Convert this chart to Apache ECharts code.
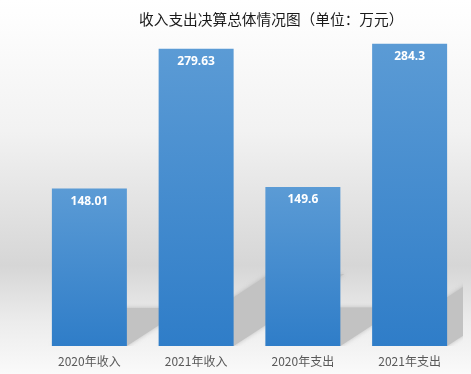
<!DOCTYPE html>
<html>
<head>
<meta charset="utf-8">
<script src="https://cdn.jsdelivr.net/npm/echarts@6/dist/echarts.min.js"></script>
<style>html,body{margin:0;padding:0;}#c{width:471px;height:374px;}</style>
</head>
<body>
<div id="c"></div>
<script>
const titleText = '收入支出决算总体情况图（单位：万元）';
const categories = ['2020年收入', '2021年收入', '2020年支出', '2021年支出'];
const values = [148.01, 279.63, 149.6, 284.3];

const chart = echarts.init(document.getElementById('c'));
const BAR_W = 75;
const D = 0.242, SLOPE = 0.65, C = D / SLOPE;

chart.setOption({
  animation: false,
  backgroundColor: {
    type: 'linear', x: 0, y: 0, x2: 0, y2: 1,
    colorStops: [
      { offset: 0, color: '#ffffff' },
      { offset: 0.06, color: '#fdfdfd' },
      { offset: 0.35, color: '#f2f2f2' },
      { offset: 0.71, color: '#d6d6d6' },
      { offset: 0.86, color: '#ececec' },
      { offset: 1, color: '#fafafa' }
    ]
  },
  title: {
    text: titleText,
    left: 139, top: 12, padding: 0,
    textStyle: { fontFamily: 'Noto Sans CJK SC', fontSize: 14.7, fontWeight: 'normal', color: '#1a1a1a', lineHeight: 15 }
  },
  grid: { left: 36, right: 8, top: 27, bottom: 28, containLabel: false },
  xAxis: {
    type: 'category', data: categories,
    axisLine: { show: false }, axisTick: { show: false },
    axisLabel: { margin: 9, fontFamily: 'Noto Sans CJK SC', fontSize: 12, color: '#595959' }
  },
  yAxis: { type: 'value', min: 0, max: 300, show: false, splitLine: { show: false } },
  series: [
    {
      type: 'custom', z: 1, clip: true, silent: true,
      data: values.map((v, i) => [i, v]),
      renderItem: function (params, api) {
        const base = api.coord([api.value(0), 0]);
        const top = api.coord([api.value(0), api.value(1)]);
        const H = base[1] - top[1];
        const xl = base[0] - BAR_W / 2, xr = base[0] + BAR_W / 2, f = base[1];
        return {
          type: 'polygon',
          shape: { points: [[xl, f], [xr, f], [xr + C * H, f - D * H], [xl + C * H, f - D * H]] },
          style: { fill: '#c2c2c2', shadowBlur: 4, shadowColor: 'rgba(160,160,160,0.6)' }
        };
      }
    },
    {
      type: 'bar', z: 2, barWidth: BAR_W,
      data: values,
      itemStyle: {
        color: {
          type: 'linear', x: 0, y: 0, x2: 0, y2: 1,
          colorStops: [{ offset: 0, color: '#5b9bd5' }, { offset: 1, color: '#2f7dc8' }]
        }
      },
      label: {
        show: true, position: 'insideTop', distance: 7,
        color: '#ffffff', fontFamily: 'Noto Sans', fontWeight: 'bold', fontSize: 12
      }
    }
  ]
});
</script>
</body>
</html>
